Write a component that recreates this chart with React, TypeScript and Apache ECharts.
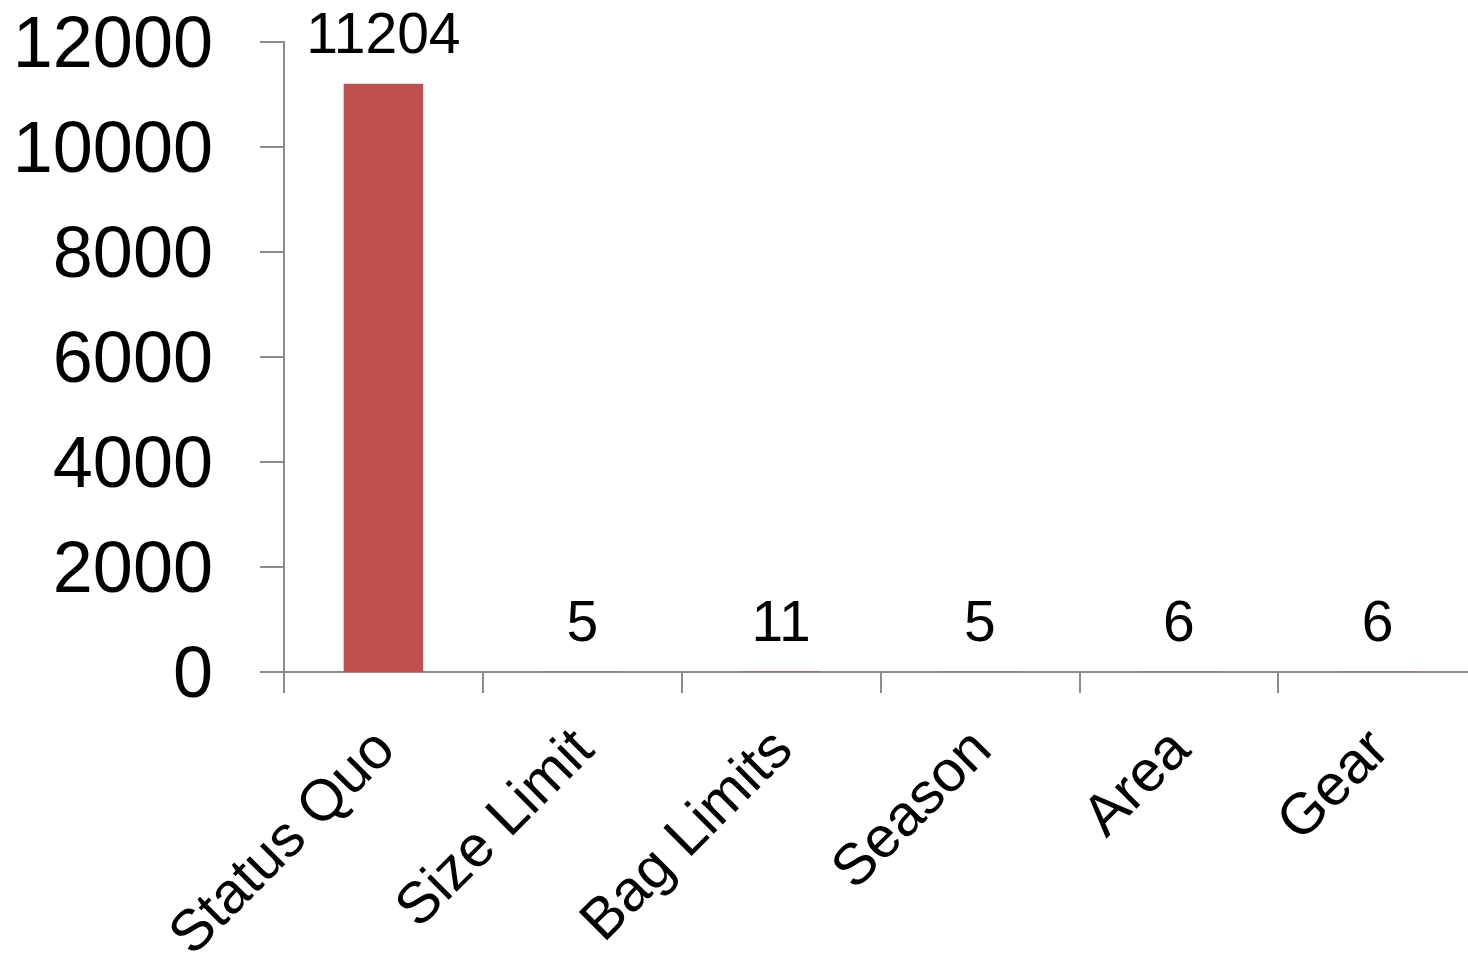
import React, { useEffect, useRef } from "react";
import * as echarts from "echarts";

const categories = ["Status Quo", "Size Limit", "Bag Limits", "Season", "Area", "Gear"];
const values = [11204, 5, 11, 5, 6, 6];
const yTicks = { min: 0, max: 12000, interval: 2000 };

export default function App() {
  const ref = useRef<HTMLDivElement>(null);
  useEffect(() => {
    if (!ref.current) return;
    const chart = echarts.init(ref.current, undefined, { renderer: "svg" });
    const axisColor = "#8c8c8c";
    chart.setOption({
      animation: false,
      backgroundColor: "#ffffff",
      grid: { left: 284, right: -9, top: 42, bottom: 283, containLabel: false, outerBoundsMode: "none" },
      xAxis: {
        type: "category",
        data: categories,
        axisLine: { show: true, lineStyle: { color: axisColor, width: 2 } },
        axisTick: { show: true, length: 21, lineStyle: { color: axisColor, width: 2 } },
        axisLabel: {
          interval: 0,
          rotate: 45,
          margin: 66,
          color: "#000",
          fontSize: 58,
          fontFamily: "Liberation Sans, Arial, sans-serif",
        },
      },
      yAxis: {
        type: "value",
        min: yTicks.min,
        max: yTicks.max,
        interval: yTicks.interval,
        splitLine: { show: false },
        axisLine: { show: true, lineStyle: { color: axisColor, width: 2 } },
        axisTick: { show: true, length: 24, lineStyle: { color: axisColor, width: 2 } },
        axisLabel: {
          margin: 71,
          color: "#000",
          fontSize: 72,
          fontFamily: "Liberation Sans, Arial, sans-serif",
          formatter: (v: number) => String(v),
        },
      },
      series: [
        {
          type: "bar",
          data: values,
          barWidth: "40%",
          itemStyle: { color: "#C0504D" },
          label: {
            show: true,
            position: "top",
            distance: 22,
            color: "#000",
            fontSize: 57,
            fontFamily: "Liberation Sans, Arial, sans-serif",
          },
        },
      ],
    });
    return () => chart.dispose();
  }, []);
  return (
    <div style={{ position: "absolute", left: 0, top: 0, width: 1468, height: 955, overflow: "hidden" }}>
      <div ref={ref} style={{ width: 1468, height: 955 }} />
    </div>
  );
}
